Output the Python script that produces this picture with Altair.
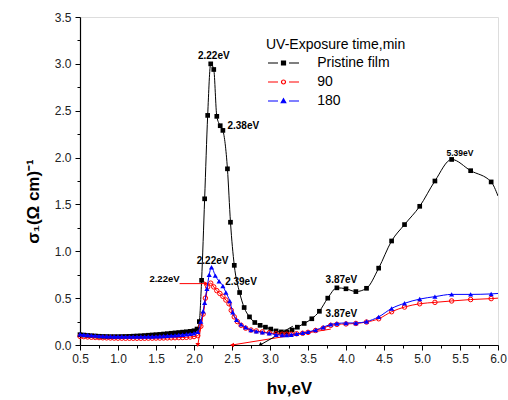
import altair as alt
import pandas as pd

FONT = "Liberation Sans"

# ---------------- data ----------------
left_x = [0.50, 0.55, 0.60, 0.65, 0.70, 0.75, 0.80, 0.85, 0.90, 0.95,
          1.00, 1.05, 1.10, 1.15, 1.20, 1.25, 1.30, 1.35, 1.40, 1.45,
          1.50, 1.55, 1.60, 1.65, 1.70, 1.75, 1.80, 1.85, 1.90, 1.95, 2.00]

pristine_left_y = [0.110, 0.106, 0.102, 0.099, 0.096, 0.093, 0.091, 0.090, 0.089, 0.089,
                   0.089, 0.090, 0.091, 0.092, 0.094, 0.096, 0.098, 0.101, 0.104, 0.107,
                   0.110, 0.113, 0.117, 0.121, 0.125, 0.129, 0.133, 0.137, 0.141, 0.146, 0.152]
pristine_x = [2.04, 2.07, 2.10, 2.14, 2.18, 2.22, 2.26, 2.30, 2.345, 2.38,
              2.44, 2.48, 2.53, 2.60, 2.66, 2.73, 2.80, 2.87, 2.94, 3.01,
              3.08, 3.15, 3.22, 3.29, 3.36, 3.45, 3.55, 3.65, 3.76, 3.88,
              4.00, 4.13, 4.27, 4.43, 4.60, 4.77, 4.97, 5.17, 5.39, 5.64, 5.91]
pristine_y = [0.17, 0.25, 0.69, 1.56, 2.45, 3.00, 2.94, 2.44, 2.34, 2.29,
              1.88, 1.31, 0.85, 0.56, 0.40, 0.30, 0.24, 0.21, 0.19, 0.17,
              0.15, 0.14, 0.14, 0.16, 0.19, 0.23, 0.28, 0.36, 0.50, 0.61,
              0.60, 0.57, 0.605, 0.82, 1.11, 1.285, 1.48, 1.75, 1.98, 1.86, 1.74]
pristine_end = [6.00, 1.59]

uv90_left_y = [0.092, 0.089, 0.086, 0.083, 0.081, 0.079, 0.077, 0.076, 0.075, 0.074,
               0.073, 0.073, 0.072, 0.072, 0.072, 0.072, 0.072, 0.072, 0.073, 0.073,
               0.074, 0.074, 0.075, 0.076, 0.077, 0.078, 0.079, 0.080, 0.082, 0.085, 0.090]
uv90_x = [2.05, 2.09, 2.12, 2.15, 2.18, 2.22, 2.26, 2.30, 2.34, 2.38,
          2.42, 2.46, 2.49, 2.53, 2.57, 2.62, 2.68, 2.75, 2.82, 2.90,
          2.99, 3.08, 3.16, 3.22, 3.28, 3.35, 3.43, 3.50, 3.60, 3.70,
          3.80, 3.88, 4.00, 4.13, 4.27, 4.43, 4.60, 4.77, 4.97, 5.17,
          5.39, 5.64, 5.91]
uv90_y = [0.10, 0.20, 0.33, 0.50, 0.62, 0.66, 0.62, 0.58, 0.55, 0.52,
          0.48, 0.44, 0.37, 0.30, 0.25, 0.21, 0.18, 0.16, 0.15, 0.14,
          0.13, 0.12, 0.115, 0.115, 0.115, 0.12, 0.125, 0.135, 0.155, 0.18,
          0.21, 0.22, 0.225, 0.23, 0.245, 0.28, 0.355, 0.405, 0.44, 0.455,
          0.47, 0.485, 0.495]
uv90_end = [6.00, 0.50]

uv180_left_y = [0.114, 0.110, 0.106, 0.103, 0.100, 0.097, 0.095, 0.093, 0.092, 0.091,
                0.090, 0.090, 0.089, 0.089, 0.089, 0.089, 0.089, 0.089, 0.090, 0.091,
                0.092, 0.094, 0.096, 0.098, 0.100, 0.103, 0.106, 0.110, 0.114, 0.119, 0.125]
uv180_x = [2.05, 2.09, 2.12, 2.14, 2.17, 2.20, 2.23, 2.28, 2.33, 2.38,
           2.42, 2.47, 2.51, 2.56, 2.62, 2.68, 2.75, 2.82, 2.90, 2.99,
           3.08, 3.16, 3.22, 3.28, 3.35, 3.43, 3.50, 3.60, 3.70, 3.80,
           3.88, 4.00, 4.13, 4.27, 4.43, 4.60, 4.77, 4.97, 5.17, 5.39,
           5.64, 5.91]
uv180_y = [0.14, 0.25, 0.36, 0.45, 0.60, 0.75, 0.83, 0.74, 0.68, 0.63,
           0.56, 0.47, 0.35, 0.27, 0.22, 0.19, 0.16, 0.145, 0.135, 0.125,
           0.11, 0.105, 0.105, 0.11, 0.12, 0.13, 0.14, 0.16, 0.19, 0.22,
           0.23, 0.235, 0.235, 0.25, 0.30, 0.39, 0.445, 0.49, 0.516, 0.54,
           0.54, 0.545]
uv180_end = [6.00, 0.55]

series_names = ["Pristine film", "90", "180"]

# peak annotations
label_text = ["2.22eV", "2.38eV", "2.22eV", "2.39eV", "2.22eV", "3.87eV", "3.87eV", "5.39eV"]
label_x = [2.26, 2.44, 2.245, 2.41, 1.81, 3.94, 3.94, 5.50]
label_y = [3.085, 2.34, 0.90, 0.67, 0.70, 0.69, 0.33, 2.05]

# tangent (extrapolation) lines
tan_x1 = [1.81, 2.18, 3.80, 3.30]
tan_y1 = [0.655, 0.62, 0.17, 0.20]
tan_x2 = [2.16, 2.05, 2.50, 2.87]
tan_y2 = [0.655, 0.00, 0.00, 0.00]

x_major = [0.5, 1.0, 1.5, 2.0, 2.5, 3.0, 3.5, 4.0, 4.5, 5.0, 5.5, 6.0]
x_minor = [0.75, 1.25, 1.75, 2.25, 2.75, 3.25, 3.75, 4.25, 4.75, 5.25, 5.75]
y_major = [0.0, 0.5, 1.0, 1.5, 2.0, 2.5, 3.0, 3.5]
y_minor = [0.25, 0.75, 1.25, 1.75, 2.25, 2.75, 3.25]

# ---------------- styles ----------------
label_align = ["center", "left", "center", "left", "right", "center", "center", "center"]
label_size = [10, 10, 10, 10, 9.5, 10, 10, 8.5]
tan_color = ["red", "red", "red", "black"]
tan_arrow = [("triangle-right", 0), ("triangle-down", 0), ("triangle-left", 0), ("triangle-up", 237)]

xscale = alt.Scale(domain=[0.5, 6.0], nice=False, zero=False)
yscale = alt.Scale(domain=[0.0, 3.5], nice=False, zero=False)

x_axis_main = alt.Axis(values=x_major, format=".1f", orient="bottom", grid=False,
                       tickSize=5, tickColor="black", tickWidth=1,
                       domainColor="black", domainWidth=1.2, labelFlush=False,
                       labelFont=FONT, labelFontSize=12, labelColor="#222", labelPadding=3,
                       title="hν,eV", titleFont=FONT, titleFontSize=17, titleFontWeight="bold",
                       titleColor="black", titleBaseline="middle", titleX=209, titleY=43)
y_axis_main = alt.Axis(values=y_major, format=".1f", orient="left", grid=False,
                       tickSize=5, tickColor="black", tickWidth=1,
                       domainColor="black", domainWidth=1.2, labelFlush=False,
                       labelFont=FONT, labelFontSize=12, labelColor="#222", labelPadding=4,
                       title="σ₁(Ω cm)⁻¹", titleFont=FONT, titleFontSize=17, titleFontWeight="bold",
                       titleColor="black", titleAngle=270, titleAlign="center",
                       titleBaseline="middle", titleX=-47, titleY=184)
x_axis_minor = alt.Axis(values=x_minor, orient="bottom", grid=False, labels=False, domain=False,
                        tickSize=3, tickColor="black", tickWidth=1)
y_axis_minor = alt.Axis(values=y_minor, orient="left", grid=False, labels=False, domain=False,
                        tickSize=3, tickColor="black", tickWidth=1)


def df(xs, ys):
    return pd.DataFrame({"x": xs, "y": ys})


def plain(chart):
    return chart.encode(
        x=alt.X("x:Q", scale=xscale, axis=None),
        y=alt.Y("y:Q", scale=yscale, axis=None),
    )


p_df = df(left_x + pristine_x, pristine_left_y + pristine_y)
p_line = df(left_x + pristine_x + [pristine_end[0]], pristine_left_y + pristine_y + [pristine_end[1]])
r_df = df(left_x + uv90_x, uv90_left_y + uv90_y)
r_line = df(left_x + uv90_x + [uv90_end[0]], uv90_left_y + uv90_y + [uv90_end[1]])
b_df = df(left_x + uv180_x, uv180_left_y + uv180_y)
b_line = df(left_x + uv180_x + [uv180_end[0]], uv180_left_y + uv180_y + [uv180_end[1]])

layers = []
# black line carries the main axes, black markers carry the minor ticks
layers.append(alt.Chart(p_line).mark_line(color="black", strokeWidth=1, interpolate="monotone", clip=True).encode(
    x=alt.X("x:Q", scale=xscale, axis=x_axis_main),
    y=alt.Y("y:Q", scale=yscale, axis=y_axis_main)))
layers.append(alt.Chart(p_df).mark_point(shape="square", filled=True, size=22, color="black", opacity=1).encode(
    x=alt.X("x:Q", scale=xscale, axis=x_axis_minor, title=None),
    y=alt.Y("y:Q", scale=yscale, axis=y_axis_minor, title=None)))

# tangent lines with arrow heads
tan_df = pd.DataFrame({"x": tan_x1, "y": tan_y1, "x2": tan_x2, "y2": tan_y2})
for i in range(len(tan_x1)):
    row = tan_df.iloc[[i]]
    layers.append(alt.Chart(row).mark_rule(color=tan_color[i], strokeWidth=1).encode(
        x=alt.X("x:Q", scale=xscale, axis=None), y=alt.Y("y:Q", scale=yscale, axis=None),
        x2="x2:Q", y2="y2:Q"))
    shp, ang = tan_arrow[i]
    layers.append(alt.Chart(row).mark_point(shape=shp, angle=ang, filled=True, size=22,
                                            color=tan_color[i], opacity=1).encode(
        x=alt.X("x2:Q", scale=xscale, axis=None), y=alt.Y("y2:Q", scale=yscale, axis=None)))

layers.append(plain(alt.Chart(r_line).mark_line(color="red", strokeWidth=1, interpolate="monotone", clip=True)))
layers.append(plain(alt.Chart(r_df).mark_point(shape="circle", filled=False, size=20, color="red",
                                               strokeWidth=1, opacity=1)))
layers.append(plain(alt.Chart(b_line).mark_line(color="blue", strokeWidth=1, interpolate="monotone", clip=True)))
layers.append(plain(alt.Chart(b_df).mark_point(shape="triangle-up", filled=True, size=26, color="blue", opacity=1)))

# annotation labels
lab_df = pd.DataFrame({"x": label_x, "y": label_y, "t": label_text})
for i in range(len(label_text)):
    layers.append(alt.Chart(lab_df.iloc[[i]]).mark_text(
        font=FONT, fontSize=label_size[i], fontWeight="bold", color="black",
        align=label_align[i], baseline="middle").encode(
        x=alt.X("x:Q", scale=xscale, axis=None), y=alt.Y("y:Q", scale=yscale, axis=None), text="t:N"))

# legend carrier (no marks drawn)
leg_paths = [
    "M-3.1,0H-1.1M1.1,0H3.1M-0.4,-0.4H0.4V0.4H-0.4Z",
    "M-3.1,0H-1.1M1.1,0H3.1M0.4,0A0.4,0.4,0,1,1,-0.4,0A0.4,0.4,0,1,1,0.4,0Z",
    "M-3.1,0H-1.1M1.1,0H3.1M0,-0.45L0.45,0.35L-0.45,0.35Z",
]
legend = alt.Legend(title="UV-Exposure time,min", orient="none", legendX=186, legendY=21,
                    titleFont=FONT, titleFontSize=14, titleFontWeight="normal", titleColor="black",
                    labelFont=FONT, labelFontSize=14, labelColor="black",
                    symbolSize=100, symbolStrokeWidth=1.2, symbolOffset=10.5, labelOffset=26.7,
                    rowPadding=5, titlePadding=4, padding=0, symbolOpacity=1)
leg_df = pd.DataFrame({"series": series_names})
layers.append(alt.Chart(leg_df).mark_point(filled=True).encode(
    fill=alt.Fill("series:N", scale=alt.Scale(domain=series_names, range=["black", "white", "blue"]), legend=legend),
    stroke=alt.Stroke("series:N", scale=alt.Scale(domain=series_names, range=["black", "red", "blue"]), legend=legend),
    shape=alt.Shape("series:N", scale=alt.Scale(domain=series_names, range=leg_paths), legend=legend),
).transform_filter("false"))

chart = alt.layer(*layers).resolve_axis(x="independent", y="independent").properties(
    width=418, height=328,
    autosize=alt.AutoSizeParams(type="none"),
    padding={"left": 80, "top": 17, "right": 10, "bottom": 55},
).configure_view(stroke="#222", strokeWidth=1.2).configure(background="white")

chart.save("out.html", embed_options={"renderer": "svg", "actions": False})
